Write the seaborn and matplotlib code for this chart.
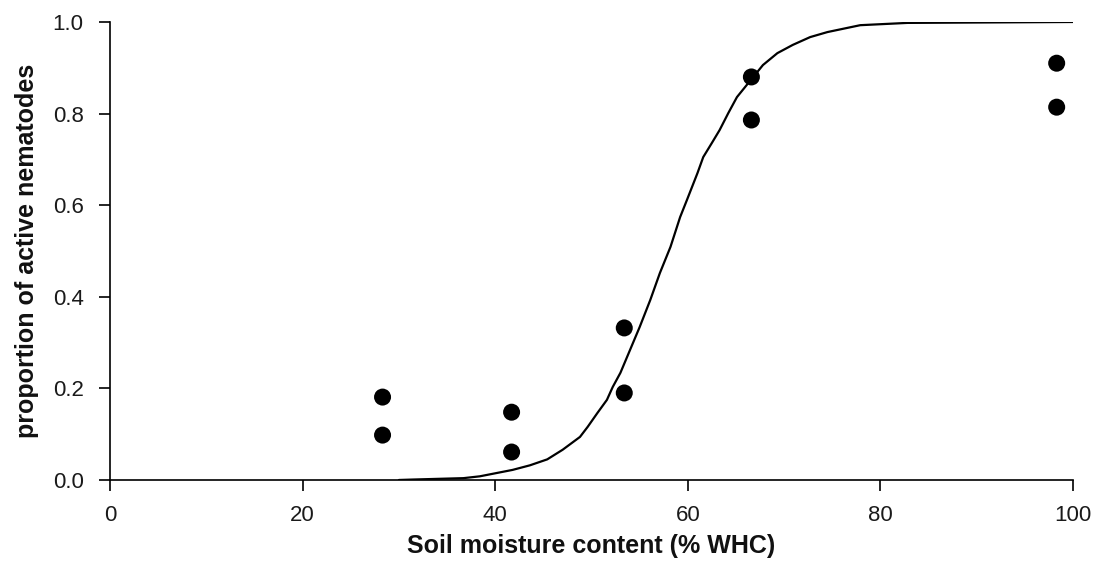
import seaborn as sns
import matplotlib.pyplot as plt
import pandas as pd

sns.set_style("ticks")
plt.rcParams['font.family'] = ['Liberation Sans', 'DejaVu Sans']

# observed proportions of active nematodes
moisture = [28.3, 28.3, 41.7, 41.7, 53.4, 53.4, 66.6, 66.6, 98.3, 98.3]
active = [0.181, 0.098, 0.148, 0.061, 0.332, 0.190, 0.880, 0.786, 0.910, 0.814]

# fitted curve
curve_x = [30.0, 31.5, 36.7, 38.4, 41.8, 43.6, 45.4, 47.0, 48.8, 49.6, 50.6, 51.6,
           52.2, 53.0, 54.0, 55.0, 56.1, 57.1, 58.2, 59.2, 59.9, 61.0, 61.6, 62.5,
           63.3, 64.2, 65.1, 66.1, 66.8, 67.8, 69.3, 70.9, 72.7, 74.5, 77.9, 82.8, 100.0]
curve_y = [0.0, 0.001, 0.004, 0.008, 0.022, 0.032, 0.045, 0.066, 0.094, 0.116, 0.146, 0.175,
           0.203, 0.234, 0.284, 0.334, 0.393, 0.452, 0.509, 0.574, 0.611, 0.670, 0.705, 0.736,
           0.764, 0.801, 0.836, 0.862, 0.880, 0.906, 0.932, 0.950, 0.967, 0.978, 0.993, 0.998, 1.0]

pts = pd.DataFrame({'x': moisture, 'y': active})
fit = pd.DataFrame({'x': curve_x, 'y': curve_y})

fig = plt.figure(figsize=(11, 5.71), dpi=100)
ax = fig.add_axes([0.1, 0.1594, 0.8755, 0.8021])

sns.lineplot(data=fit, x='x', y='y', color='black', linewidth=1.6, ax=ax)
sns.scatterplot(data=pts, x='x', y='y', color='black', s=150, edgecolor='none', ax=ax, zorder=3)

ax.set_xlim(0, 100)
ax.set_ylim(0, 1.0)
ax.set_xticks([0, 20, 40, 60, 80, 100])
ax.set_yticks([0.0, 0.2, 0.4, 0.6, 0.8, 1.0])
ax.set_yticklabels(['0.0', '0.2', '0.4', '0.6', '0.8', '1.0'])
ax.tick_params(axis='both', direction='out', length=8, width=1.2, labelsize=16,
               color='black', labelcolor='#1a1a1a')
ax.tick_params(axis='x', pad=10)
ax.tick_params(axis='y', pad=11)
for side in ['left', 'bottom']:
    ax.spines[side].set_linewidth(1.2)
    ax.spines[side].set_color('black')
sns.despine(ax=ax)

ax.set_xlabel('Soil moisture content (% WHC)', fontsize=18, fontweight='bold',
              labelpad=6, color='#111111')
ax.set_ylabel('proportion of active nematodes', fontsize=18, fontweight='bold',
              labelpad=10, color='#111111')

fig.savefig('out.png', dpi=100)
